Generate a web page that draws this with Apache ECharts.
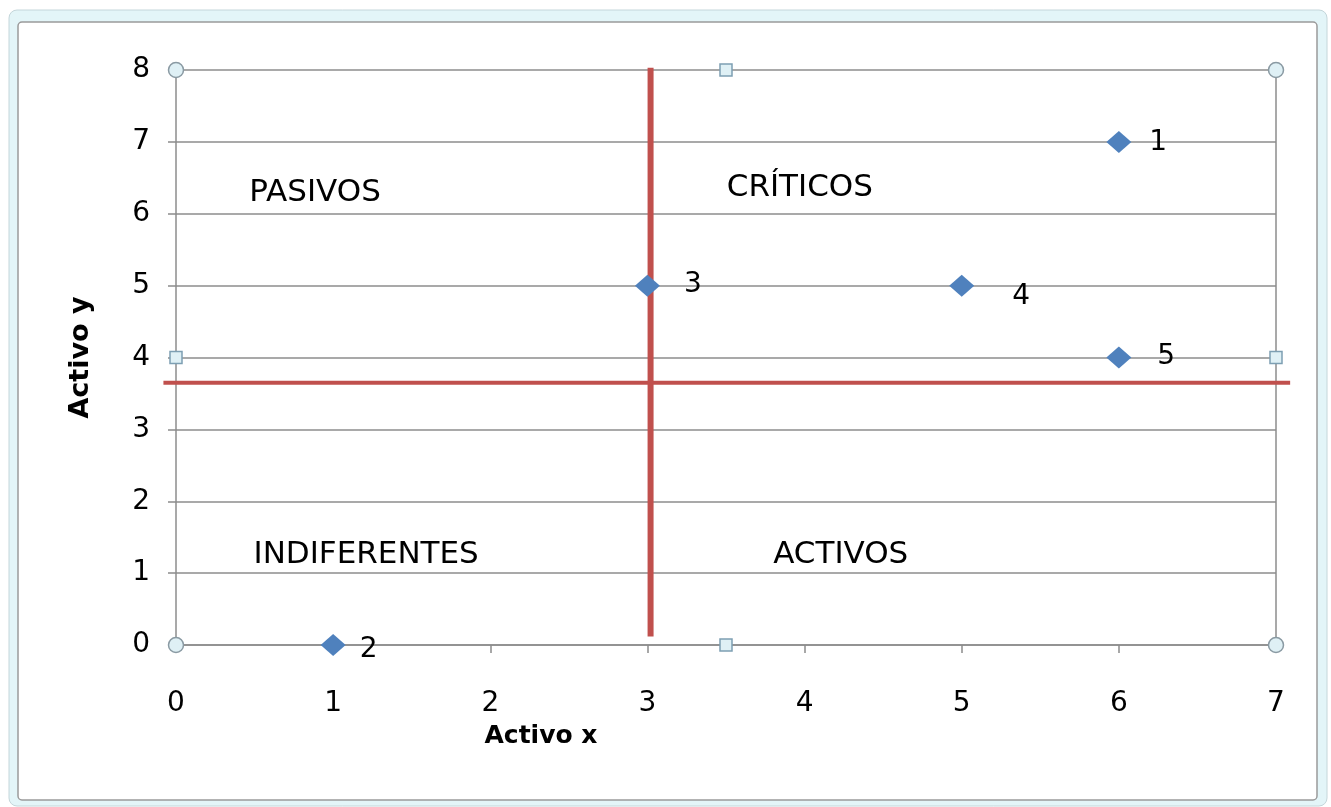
<!DOCTYPE html>
<html>
<head>
<meta charset="utf-8">
<script src="https://cdn.jsdelivr.net/npm/echarts@6/dist/echarts.min.js"></script>
<style>html,body{margin:0;padding:0;background:#fff;}#c{width:1331px;height:807px;}</style>
</head>
<body>
<div id="c"></div>
<script>
// ---- data ----
var pointLabels = ['1', '2', '3', '4', '5'];
var pointX = [6, 1, 3, 5, 6];
var pointY = [7, 0, 5, 5, 4];
// dividers: [x1, y1, x2, y2]
var dividers = [[3.02, 0.12, 3.02, 8.03], [-0.08, 3.65, 7.09, 3.65]];
var quadrantNames = ['PASIVOS', 'CRÍTICOS', 'INDIFERENTES', 'ACTIVOS'];
var quadrantX = [0.885, 3.97, 1.21, 4.23];
var quadrantY = [6.29, 6.36, 1.25, 1.25];
var handleCircles = [[0, 0], [0, 8], [7, 0], [7, 8]];
var handleSquares = [[3.5, 0], [3.5, 8], [0, 4], [7, 4]];
var xTicks = [0, 1, 2, 3, 4, 5, 6, 7];
var yTicks = [0, 1, 2, 3, 4, 5, 6, 7, 8];

var FONT = 'DejaVu Sans';
var labelOffsets = [[2, 1], [-2, 5], [8, -1], [22, 11], [10, -1]];
var dividerWidths = [6, 4];

var chart = echarts.init(document.getElementById('c'), null, {renderer: 'canvas'});

var pts = pointX.map(function (x, i) {
  return {
    value: [x, pointY[i]],
    name: pointLabels[i],
    label: {offset: labelOffsets[i]}
  };
});

var quad = quadrantNames.map(function (n, i) {
  return {value: [quadrantX[i], quadrantY[i]], name: n};
});

var option = {
  animation: false,
  backgroundColor: '#ffffff',
  graphic: [
    {type: 'rect', z: -10, shape: {x: 9, y: 10, width: 1318, height: 796, r: 8},
      style: {fill: '#e3f5f8', stroke: '#c4d6da', lineWidth: 1}},
    {type: 'rect', z: -9, shape: {x: 18, y: 22, width: 1299, height: 778, r: 4},
      style: {fill: '#ffffff', stroke: '#9a9a9a', lineWidth: 1.5}}
  ],
  grid: {left: 176, right: 55, top: 70, bottom: 162, containLabel: false},
  xAxis: {
    type: 'value', min: 0, max: 7, interval: 1,
    name: 'Activo x', nameLocation: 'middle', nameGap: 79,
    nameTextStyle: {fontFamily: FONT, fontSize: 25, fontWeight: 'bold', color: '#000',
      padding: [0, 370, 0, 0]},
    axisLine: {show: true, lineStyle: {color: '#8c8c8c', width: 1.5}},
    axisTick: {show: true, length: 8, lineStyle: {color: '#8c8c8c', width: 1.5}},
    axisLabel: {fontFamily: FONT, fontSize: 28, color: '#000', margin: 45,
      formatter: function (v) { return xTicks.indexOf(v) >= 0 ? String(v) : ''; }},
    splitLine: {show: false}
  },
  yAxis: {
    type: 'value', min: 0, max: 8, interval: 1,
    name: 'Activo y', nameLocation: 'middle', nameGap: 82, nameRotate: 90,
    nameTextStyle: {fontFamily: FONT, fontSize: 27, fontWeight: 'bold', color: '#000'},
    axisLine: {show: true, lineStyle: {color: '#8c8c8c', width: 1.5}},
    axisTick: {show: true, length: 8, lineStyle: {color: '#8c8c8c', width: 1.5}},
    axisLabel: {fontFamily: FONT, fontSize: 28, color: '#000', margin: 26,
      formatter: function (v) { return yTicks.indexOf(v) >= 0 ? String(v) : ''; }},
    splitLine: {show: true, lineStyle: {color: '#8c8c8c', width: 1.5}}
  },
  series: [
    {
      // right border of plot area
      type: 'line', data: [[7, 0], [7, 8]], symbol: 'none', silent: true,
      lineStyle: {color: '#8c8c8c', width: 1.5}, z: 1
    },
    {
      type: 'custom', data: dividers, clip: false, silent: true, z: 3,
      encode: {x: [0, 2], y: [1, 3]},
      renderItem: function (params, api) {
        var p1 = api.coord([api.value(0), api.value(1)]);
        var p2 = api.coord([api.value(2), api.value(3)]);
        return {
          type: 'line',
          shape: {x1: p1[0], y1: p1[1], x2: p2[0], y2: p2[1]},
          style: {stroke: '#c0504d', lineWidth: dividerWidths[params.dataIndex]}
        };
      }
    },
    {
      type: 'scatter', data: pts, symbol: 'diamond', symbolSize: [25, 22],
      itemStyle: {color: '#4f81bd', opacity: 1}, z: 4, clip: false,
      label: {show: true, position: 'right', distance: 16,
        formatter: function (p) { return p.name; },
        fontFamily: FONT, fontSize: 28, color: '#000'}
    },
    {
      type: 'scatter', data: quad, symbolSize: 0, silent: true, z: 2,
      itemStyle: {opacity: 1},
      label: {show: true, position: 'inside',
        formatter: function (p) { return p.name; },
        fontFamily: FONT, fontSize: 31, color: '#000'}
    },
    {
      type: 'scatter', data: handleCircles, symbol: 'circle', symbolSize: 15, clip: false,
      silent: true, z: 6, itemStyle: {color: '#dff0f5', borderColor: '#8a9aa3', borderWidth: 1.5, opacity: 1}
    },
    {
      type: 'scatter', data: handleSquares, symbol: 'rect', symbolSize: 12, clip: false,
      silent: true, z: 6, itemStyle: {color: '#dff0f5', borderColor: '#7d9fb3', borderWidth: 1.5, opacity: 1}
    }
  ]
};
chart.setOption(option);
</script>
</body>
</html>
